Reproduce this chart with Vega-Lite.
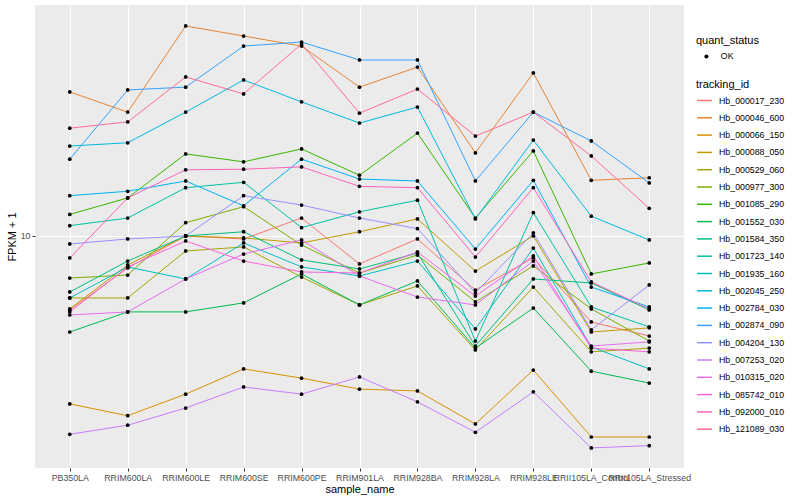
{
"$schema": "https://vega.github.io/schema/vega-lite/v6.json",
"width": 649, "height": 463,
"autosize": "none",
"padding": {"left": 35, "top": 5, "right": 116, "bottom": 32},
"background": "#FFFFFF",
"data": {"values": [
{"sample_name":"PB350LA","tracking_id":"Hb_000017_230","fpkm":5.06,"quant_status":"OK"},
{"sample_name":"RRIM600LA","tracking_id":"Hb_000017_230","fpkm":7.45,"quant_status":"OK"},
{"sample_name":"RRIM600LE","tracking_id":"Hb_000017_230","fpkm":10.0,"quant_status":"OK"},
{"sample_name":"RRIM600SE","tracking_id":"Hb_000017_230","fpkm":9.73,"quant_status":"OK"},
{"sample_name":"RRIM600PE","tracking_id":"Hb_000017_230","fpkm":11.8,"quant_status":"OK"},
{"sample_name":"RRIM901LA","tracking_id":"Hb_000017_230","fpkm":7.73,"quant_status":"OK"},
{"sample_name":"RRIM928BA","tracking_id":"Hb_000017_230","fpkm":9.73,"quant_status":"OK"},
{"sample_name":"RRIM928LA","tracking_id":"Hb_000017_230","fpkm":6.08,"quant_status":"OK"},
{"sample_name":"RRIM928LE","tracking_id":"Hb_000017_230","fpkm":8.17,"quant_status":"OK"},
{"sample_name":"RRII105LA_Control","tracking_id":"Hb_000017_230","fpkm":4.53,"quant_status":"OK"},
{"sample_name":"RRII105LA_Stressed","tracking_id":"Hb_000017_230","fpkm":3.98,"quant_status":"OK"},
{"sample_name":"PB350LA","tracking_id":"Hb_000046_600","fpkm":37.7,"quant_status":"OK"},
{"sample_name":"RRIM600LA","tracking_id":"Hb_000046_600","fpkm":31.3,"quant_status":"OK"},
{"sample_name":"RRIM600LE","tracking_id":"Hb_000046_600","fpkm":69.2,"quant_status":"OK"},
{"sample_name":"RRIM600SE","tracking_id":"Hb_000046_600","fpkm":63.1,"quant_status":"OK"},
{"sample_name":"RRIM600PE","tracking_id":"Hb_000046_600","fpkm":57.5,"quant_status":"OK"},
{"sample_name":"RRIM901LA","tracking_id":"Hb_000046_600","fpkm":39.4,"quant_status":"OK"},
{"sample_name":"RRIM928BA","tracking_id":"Hb_000046_600","fpkm":47.4,"quant_status":"OK"},
{"sample_name":"RRIM928LA","tracking_id":"Hb_000046_600","fpkm":21.5,"quant_status":"OK"},
{"sample_name":"RRIM928LE","tracking_id":"Hb_000046_600","fpkm":44.9,"quant_status":"OK"},
{"sample_name":"RRII105LA_Control","tracking_id":"Hb_000046_600","fpkm":16.7,"quant_status":"OK"},
{"sample_name":"RRII105LA_Stressed","tracking_id":"Hb_000046_600","fpkm":17.1,"quant_status":"OK"},
{"sample_name":"PB350LA","tracking_id":"Hb_000066_150","fpkm":2.13,"quant_status":"OK"},
{"sample_name":"RRIM600LA","tracking_id":"Hb_000066_150","fpkm":1.91,"quant_status":"OK"},
{"sample_name":"RRIM600LE","tracking_id":"Hb_000066_150","fpkm":2.33,"quant_status":"OK"},
{"sample_name":"RRIM600SE","tracking_id":"Hb_000066_150","fpkm":2.94,"quant_status":"OK"},
{"sample_name":"RRIM600PE","tracking_id":"Hb_000066_150","fpkm":2.70,"quant_status":"OK"},
{"sample_name":"RRIM901LA","tracking_id":"Hb_000066_150","fpkm":2.44,"quant_status":"OK"},
{"sample_name":"RRIM928BA","tracking_id":"Hb_000066_150","fpkm":2.40,"quant_status":"OK"},
{"sample_name":"RRIM928LA","tracking_id":"Hb_000066_150","fpkm":1.77,"quant_status":"OK"},
{"sample_name":"RRIM928LE","tracking_id":"Hb_000066_150","fpkm":2.91,"quant_status":"OK"},
{"sample_name":"RRII105LA_Control","tracking_id":"Hb_000066_150","fpkm":1.57,"quant_status":"OK"},
{"sample_name":"RRII105LA_Stressed","tracking_id":"Hb_000066_150","fpkm":1.57,"quant_status":"OK"},
{"sample_name":"PB350LA","tracking_id":"Hb_000088_050","fpkm":5.11,"quant_status":"OK"},
{"sample_name":"RRIM600LA","tracking_id":"Hb_000088_050","fpkm":7.66,"quant_status":"OK"},
{"sample_name":"RRIM600LE","tracking_id":"Hb_000088_050","fpkm":10.0,"quant_status":"OK"},
{"sample_name":"RRIM600SE","tracking_id":"Hb_000088_050","fpkm":9.82,"quant_status":"OK"},
{"sample_name":"RRIM600PE","tracking_id":"Hb_000088_050","fpkm":9.38,"quant_status":"OK"},
{"sample_name":"RRIM901LA","tracking_id":"Hb_000088_050","fpkm":10.4,"quant_status":"OK"},
{"sample_name":"RRIM928BA","tracking_id":"Hb_000088_050","fpkm":11.7,"quant_status":"OK"},
{"sample_name":"RRIM928LA","tracking_id":"Hb_000088_050","fpkm":7.24,"quant_status":"OK"},
{"sample_name":"RRIM928LE","tracking_id":"Hb_000088_050","fpkm":10.0,"quant_status":"OK"},
{"sample_name":"RRII105LA_Control","tracking_id":"Hb_000088_050","fpkm":4.13,"quant_status":"OK"},
{"sample_name":"RRII105LA_Stressed","tracking_id":"Hb_000088_050","fpkm":4.29,"quant_status":"OK"},
{"sample_name":"PB350LA","tracking_id":"Hb_000529_060","fpkm":5.65,"quant_status":"OK"},
{"sample_name":"RRIM600LA","tracking_id":"Hb_000529_060","fpkm":5.65,"quant_status":"OK"},
{"sample_name":"RRIM600LE","tracking_id":"Hb_000529_060","fpkm":8.71,"quant_status":"OK"},
{"sample_name":"RRIM600SE","tracking_id":"Hb_000529_060","fpkm":9.04,"quant_status":"OK"},
{"sample_name":"RRIM600PE","tracking_id":"Hb_000529_060","fpkm":6.85,"quant_status":"OK"},
{"sample_name":"RRIM901LA","tracking_id":"Hb_000529_060","fpkm":5.30,"quant_status":"OK"},
{"sample_name":"RRIM928BA","tracking_id":"Hb_000529_060","fpkm":6.31,"quant_status":"OK"},
{"sample_name":"RRIM928LA","tracking_id":"Hb_000529_060","fpkm":3.50,"quant_status":"OK"},
{"sample_name":"RRIM928LE","tracking_id":"Hb_000529_060","fpkm":6.25,"quant_status":"OK"},
{"sample_name":"RRII105LA_Control","tracking_id":"Hb_000529_060","fpkm":3.44,"quant_status":"OK"},
{"sample_name":"RRII105LA_Stressed","tracking_id":"Hb_000529_060","fpkm":3.56,"quant_status":"OK"},
{"sample_name":"PB350LA","tracking_id":"Hb_000977_300","fpkm":6.79,"quant_status":"OK"},
{"sample_name":"RRIM600LA","tracking_id":"Hb_000977_300","fpkm":6.98,"quant_status":"OK"},
{"sample_name":"RRIM600LE","tracking_id":"Hb_000977_300","fpkm":11.3,"quant_status":"OK"},
{"sample_name":"RRIM600SE","tracking_id":"Hb_000977_300","fpkm":13.1,"quant_status":"OK"},
{"sample_name":"RRIM600PE","tracking_id":"Hb_000977_300","fpkm":9.20,"quant_status":"OK"},
{"sample_name":"RRIM901LA","tracking_id":"Hb_000977_300","fpkm":7.11,"quant_status":"OK"},
{"sample_name":"RRIM928BA","tracking_id":"Hb_000977_300","fpkm":8.39,"quant_status":"OK"},
{"sample_name":"RRIM928LA","tracking_id":"Hb_000977_300","fpkm":5.45,"quant_status":"OK"},
{"sample_name":"RRIM928LE","tracking_id":"Hb_000977_300","fpkm":7.59,"quant_status":"OK"},
{"sample_name":"RRII105LA_Control","tracking_id":"Hb_000977_300","fpkm":5.11,"quant_status":"OK"},
{"sample_name":"RRII105LA_Stressed","tracking_id":"Hb_000977_300","fpkm":3.80,"quant_status":"OK"},
{"sample_name":"PB350LA","tracking_id":"Hb_001085_290","fpkm":12.2,"quant_status":"OK"},
{"sample_name":"RRIM600LA","tracking_id":"Hb_001085_290","fpkm":14.2,"quant_status":"OK"},
{"sample_name":"RRIM600LE","tracking_id":"Hb_001085_290","fpkm":21.3,"quant_status":"OK"},
{"sample_name":"RRIM600SE","tracking_id":"Hb_001085_290","fpkm":19.8,"quant_status":"OK"},
{"sample_name":"RRIM600PE","tracking_id":"Hb_001085_290","fpkm":22.3,"quant_status":"OK"},
{"sample_name":"RRIM901LA","tracking_id":"Hb_001085_290","fpkm":17.5,"quant_status":"OK"},
{"sample_name":"RRIM928BA","tracking_id":"Hb_001085_290","fpkm":25.8,"quant_status":"OK"},
{"sample_name":"RRIM928LA","tracking_id":"Hb_001085_290","fpkm":11.8,"quant_status":"OK"},
{"sample_name":"RRIM928LE","tracking_id":"Hb_001085_290","fpkm":21.9,"quant_status":"OK"},
{"sample_name":"RRII105LA_Control","tracking_id":"Hb_001085_290","fpkm":7.05,"quant_status":"OK"},
{"sample_name":"RRII105LA_Stressed","tracking_id":"Hb_001085_290","fpkm":7.80,"quant_status":"OK"},
{"sample_name":"PB350LA","tracking_id":"Hb_001552_030","fpkm":4.13,"quant_status":"OK"},
{"sample_name":"RRIM600LA","tracking_id":"Hb_001552_030","fpkm":4.97,"quant_status":"OK"},
{"sample_name":"RRIM600LE","tracking_id":"Hb_001552_030","fpkm":4.97,"quant_status":"OK"},
{"sample_name":"RRIM600SE","tracking_id":"Hb_001552_030","fpkm":5.40,"quant_status":"OK"},
{"sample_name":"RRIM600PE","tracking_id":"Hb_001552_030","fpkm":7.05,"quant_status":"OK"},
{"sample_name":"RRIM901LA","tracking_id":"Hb_001552_030","fpkm":5.30,"quant_status":"OK"},
{"sample_name":"RRIM928BA","tracking_id":"Hb_001552_030","fpkm":6.61,"quant_status":"OK"},
{"sample_name":"RRIM928LA","tracking_id":"Hb_001552_030","fpkm":3.56,"quant_status":"OK"},
{"sample_name":"RRIM928LE","tracking_id":"Hb_001552_030","fpkm":5.15,"quant_status":"OK"},
{"sample_name":"RRII105LA_Control","tracking_id":"Hb_001552_030","fpkm":2.88,"quant_status":"OK"},
{"sample_name":"RRII105LA_Stressed","tracking_id":"Hb_001552_030","fpkm":2.58,"quant_status":"OK"},
{"sample_name":"PB350LA","tracking_id":"Hb_001584_350","fpkm":5.97,"quant_status":"OK"},
{"sample_name":"RRIM600LA","tracking_id":"Hb_001584_350","fpkm":7.94,"quant_status":"OK"},
{"sample_name":"RRIM600LE","tracking_id":"Hb_001584_350","fpkm":10.0,"quant_status":"OK"},
{"sample_name":"RRIM600SE","tracking_id":"Hb_001584_350","fpkm":10.4,"quant_status":"OK"},
{"sample_name":"RRIM600PE","tracking_id":"Hb_001584_350","fpkm":8.02,"quant_status":"OK"},
{"sample_name":"RRIM901LA","tracking_id":"Hb_001584_350","fpkm":7.38,"quant_status":"OK"},
{"sample_name":"RRIM928BA","tracking_id":"Hb_001584_350","fpkm":8.55,"quant_status":"OK"},
{"sample_name":"RRIM928LA","tracking_id":"Hb_001584_350","fpkm":3.63,"quant_status":"OK"},
{"sample_name":"RRIM928LE","tracking_id":"Hb_001584_350","fpkm":6.73,"quant_status":"OK"},
{"sample_name":"RRII105LA_Control","tracking_id":"Hb_001584_350","fpkm":6.49,"quant_status":"OK"},
{"sample_name":"RRII105LA_Stressed","tracking_id":"Hb_001584_350","fpkm":5.06,"quant_status":"OK"},
{"sample_name":"PB350LA","tracking_id":"Hb_001723_140","fpkm":11.0,"quant_status":"OK"},
{"sample_name":"RRIM600LA","tracking_id":"Hb_001723_140","fpkm":11.8,"quant_status":"OK"},
{"sample_name":"RRIM600LE","tracking_id":"Hb_001723_140","fpkm":15.6,"quant_status":"OK"},
{"sample_name":"RRIM600SE","tracking_id":"Hb_001723_140","fpkm":16.4,"quant_status":"OK"},
{"sample_name":"RRIM600PE","tracking_id":"Hb_001723_140","fpkm":10.8,"quant_status":"OK"},
{"sample_name":"RRIM901LA","tracking_id":"Hb_001723_140","fpkm":12.5,"quant_status":"OK"},
{"sample_name":"RRIM928BA","tracking_id":"Hb_001723_140","fpkm":13.9,"quant_status":"OK"},
{"sample_name":"RRIM928LA","tracking_id":"Hb_001723_140","fpkm":3.80,"quant_status":"OK"},
{"sample_name":"RRIM928LE","tracking_id":"Hb_001723_140","fpkm":12.4,"quant_status":"OK"},
{"sample_name":"RRII105LA_Control","tracking_id":"Hb_001723_140","fpkm":5.20,"quant_status":"OK"},
{"sample_name":"RRII105LA_Stressed","tracking_id":"Hb_001723_140","fpkm":4.33,"quant_status":"OK"},
{"sample_name":"PB350LA","tracking_id":"Hb_001935_160","fpkm":5.65,"quant_status":"OK"},
{"sample_name":"RRIM600LA","tracking_id":"Hb_001935_160","fpkm":7.52,"quant_status":"OK"},
{"sample_name":"RRIM600LE","tracking_id":"Hb_001935_160","fpkm":6.73,"quant_status":"OK"},
{"sample_name":"RRIM600SE","tracking_id":"Hb_001935_160","fpkm":9.38,"quant_status":"OK"},
{"sample_name":"RRIM600PE","tracking_id":"Hb_001935_160","fpkm":7.52,"quant_status":"OK"},
{"sample_name":"RRIM901LA","tracking_id":"Hb_001935_160","fpkm":6.92,"quant_status":"OK"},
{"sample_name":"RRIM928BA","tracking_id":"Hb_001935_160","fpkm":7.94,"quant_status":"OK"},
{"sample_name":"RRIM928LA","tracking_id":"Hb_001935_160","fpkm":4.25,"quant_status":"OK"},
{"sample_name":"RRIM928LE","tracking_id":"Hb_001935_160","fpkm":8.95,"quant_status":"OK"},
{"sample_name":"RRII105LA_Control","tracking_id":"Hb_001935_160","fpkm":3.60,"quant_status":"OK"},
{"sample_name":"RRII105LA_Stressed","tracking_id":"Hb_001935_160","fpkm":2.94,"quant_status":"OK"},
{"sample_name":"PB350LA","tracking_id":"Hb_002045_250","fpkm":22.9,"quant_status":"OK"},
{"sample_name":"RRIM600LA","tracking_id":"Hb_002045_250","fpkm":23.6,"quant_status":"OK"},
{"sample_name":"RRIM600LE","tracking_id":"Hb_002045_250","fpkm":31.3,"quant_status":"OK"},
{"sample_name":"RRIM600SE","tracking_id":"Hb_002045_250","fpkm":42.1,"quant_status":"OK"},
{"sample_name":"RRIM600PE","tracking_id":"Hb_002045_250","fpkm":34.4,"quant_status":"OK"},
{"sample_name":"RRIM901LA","tracking_id":"Hb_002045_250","fpkm":28.3,"quant_status":"OK"},
{"sample_name":"RRIM928BA","tracking_id":"Hb_002045_250","fpkm":32.8,"quant_status":"OK"},
{"sample_name":"RRIM928LA","tracking_id":"Hb_002045_250","fpkm":11.7,"quant_status":"OK"},
{"sample_name":"RRIM928LE","tracking_id":"Hb_002045_250","fpkm":24.2,"quant_status":"OK"},
{"sample_name":"RRII105LA_Control","tracking_id":"Hb_002045_250","fpkm":12.0,"quant_status":"OK"},
{"sample_name":"RRII105LA_Stressed","tracking_id":"Hb_002045_250","fpkm":9.64,"quant_status":"OK"},
{"sample_name":"PB350LA","tracking_id":"Hb_002784_030","fpkm":14.5,"quant_status":"OK"},
{"sample_name":"RRIM600LA","tracking_id":"Hb_002784_030","fpkm":15.1,"quant_status":"OK"},
{"sample_name":"RRIM600LE","tracking_id":"Hb_002784_030","fpkm":16.6,"quant_status":"OK"},
{"sample_name":"RRIM600SE","tracking_id":"Hb_002784_030","fpkm":13.2,"quant_status":"OK"},
{"sample_name":"RRIM600PE","tracking_id":"Hb_002784_030","fpkm":20.3,"quant_status":"OK"},
{"sample_name":"RRIM901LA","tracking_id":"Hb_002784_030","fpkm":16.9,"quant_status":"OK"},
{"sample_name":"RRIM928BA","tracking_id":"Hb_002784_030","fpkm":16.6,"quant_status":"OK"},
{"sample_name":"RRIM928LA","tracking_id":"Hb_002784_030","fpkm":8.87,"quant_status":"OK"},
{"sample_name":"RRIM928LE","tracking_id":"Hb_002784_030","fpkm":16.7,"quant_status":"OK"},
{"sample_name":"RRII105LA_Control","tracking_id":"Hb_002784_030","fpkm":6.25,"quant_status":"OK"},
{"sample_name":"RRII105LA_Stressed","tracking_id":"Hb_002784_030","fpkm":5.20,"quant_status":"OK"},
{"sample_name":"PB350LA","tracking_id":"Hb_002874_090","fpkm":20.3,"quant_status":"OK"},
{"sample_name":"RRIM600LA","tracking_id":"Hb_002874_090","fpkm":38.4,"quant_status":"OK"},
{"sample_name":"RRIM600LE","tracking_id":"Hb_002874_090","fpkm":39.4,"quant_status":"OK"},
{"sample_name":"RRIM600SE","tracking_id":"Hb_002874_090","fpkm":57.5,"quant_status":"OK"},
{"sample_name":"RRIM600PE","tracking_id":"Hb_002874_090","fpkm":59.7,"quant_status":"OK"},
{"sample_name":"RRIM901LA","tracking_id":"Hb_002874_090","fpkm":50.6,"quant_status":"OK"},
{"sample_name":"RRIM928BA","tracking_id":"Hb_002874_090","fpkm":50.6,"quant_status":"OK"},
{"sample_name":"RRIM928LA","tracking_id":"Hb_002874_090","fpkm":16.6,"quant_status":"OK"},
{"sample_name":"RRIM928LE","tracking_id":"Hb_002874_090","fpkm":31.3,"quant_status":"OK"},
{"sample_name":"RRII105LA_Control","tracking_id":"Hb_002874_090","fpkm":24.0,"quant_status":"OK"},
{"sample_name":"RRII105LA_Stressed","tracking_id":"Hb_002874_090","fpkm":16.3,"quant_status":"OK"},
{"sample_name":"PB350LA","tracking_id":"Hb_004204_130","fpkm":9.29,"quant_status":"OK"},
{"sample_name":"RRIM600LA","tracking_id":"Hb_004204_130","fpkm":9.73,"quant_status":"OK"},
{"sample_name":"RRIM600LE","tracking_id":"Hb_004204_130","fpkm":10.0,"quant_status":"OK"},
{"sample_name":"RRIM600SE","tracking_id":"Hb_004204_130","fpkm":14.5,"quant_status":"OK"},
{"sample_name":"RRIM600PE","tracking_id":"Hb_004204_130","fpkm":13.3,"quant_status":"OK"},
{"sample_name":"RRIM901LA","tracking_id":"Hb_004204_130","fpkm":11.8,"quant_status":"OK"},
{"sample_name":"RRIM928BA","tracking_id":"Hb_004204_130","fpkm":10.7,"quant_status":"OK"},
{"sample_name":"RRIM928LA","tracking_id":"Hb_004204_130","fpkm":5.92,"quant_status":"OK"},
{"sample_name":"RRIM928LE","tracking_id":"Hb_004204_130","fpkm":10.3,"quant_status":"OK"},
{"sample_name":"RRII105LA_Control","tracking_id":"Hb_004204_130","fpkm":4.21,"quant_status":"OK"},
{"sample_name":"RRII105LA_Stressed","tracking_id":"Hb_004204_130","fpkm":6.37,"quant_status":"OK"},
{"sample_name":"PB350LA","tracking_id":"Hb_007253_020","fpkm":1.61,"quant_status":"OK"},
{"sample_name":"RRIM600LA","tracking_id":"Hb_007253_020","fpkm":1.75,"quant_status":"OK"},
{"sample_name":"RRIM600LE","tracking_id":"Hb_007253_020","fpkm":2.05,"quant_status":"OK"},
{"sample_name":"RRIM600SE","tracking_id":"Hb_007253_020","fpkm":2.49,"quant_status":"OK"},
{"sample_name":"RRIM600PE","tracking_id":"Hb_007253_020","fpkm":2.33,"quant_status":"OK"},
{"sample_name":"RRIM901LA","tracking_id":"Hb_007253_020","fpkm":2.73,"quant_status":"OK"},
{"sample_name":"RRIM928BA","tracking_id":"Hb_007253_020","fpkm":2.17,"quant_status":"OK"},
{"sample_name":"RRIM928LA","tracking_id":"Hb_007253_020","fpkm":1.64,"quant_status":"OK"},
{"sample_name":"RRIM928LE","tracking_id":"Hb_007253_020","fpkm":2.38,"quant_status":"OK"},
{"sample_name":"RRII105LA_Control","tracking_id":"Hb_007253_020","fpkm":1.42,"quant_status":"OK"},
{"sample_name":"RRII105LA_Stressed","tracking_id":"Hb_007253_020","fpkm":1.45,"quant_status":"OK"},
{"sample_name":"PB350LA","tracking_id":"Hb_010315_020","fpkm":4.83,"quant_status":"OK"},
{"sample_name":"RRIM600LA","tracking_id":"Hb_010315_020","fpkm":4.97,"quant_status":"OK"},
{"sample_name":"RRIM600LE","tracking_id":"Hb_010315_020","fpkm":6.73,"quant_status":"OK"},
{"sample_name":"RRIM600SE","tracking_id":"Hb_010315_020","fpkm":8.47,"quant_status":"OK"},
{"sample_name":"RRIM600PE","tracking_id":"Hb_010315_020","fpkm":9.64,"quant_status":"OK"},
{"sample_name":"RRIM901LA","tracking_id":"Hb_010315_020","fpkm":6.92,"quant_status":"OK"},
{"sample_name":"RRIM928BA","tracking_id":"Hb_010315_020","fpkm":5.70,"quant_status":"OK"},
{"sample_name":"RRIM928LA","tracking_id":"Hb_010315_020","fpkm":5.30,"quant_status":"OK"},
{"sample_name":"RRIM928LE","tracking_id":"Hb_010315_020","fpkm":7.94,"quant_status":"OK"},
{"sample_name":"RRII105LA_Control","tracking_id":"Hb_010315_020","fpkm":3.63,"quant_status":"OK"},
{"sample_name":"RRII105LA_Stressed","tracking_id":"Hb_010315_020","fpkm":3.77,"quant_status":"OK"},
{"sample_name":"PB350LA","tracking_id":"Hb_085742_010","fpkm":4.97,"quant_status":"OK"},
{"sample_name":"RRIM600LA","tracking_id":"Hb_085742_010","fpkm":7.52,"quant_status":"OK"},
{"sample_name":"RRIM600LE","tracking_id":"Hb_085742_010","fpkm":9.55,"quant_status":"OK"},
{"sample_name":"RRIM600SE","tracking_id":"Hb_085742_010","fpkm":7.94,"quant_status":"OK"},
{"sample_name":"RRIM600PE","tracking_id":"Hb_085742_010","fpkm":7.18,"quant_status":"OK"},
{"sample_name":"RRIM901LA","tracking_id":"Hb_085742_010","fpkm":7.11,"quant_status":"OK"},
{"sample_name":"RRIM928BA","tracking_id":"Hb_085742_010","fpkm":8.63,"quant_status":"OK"},
{"sample_name":"RRIM928LA","tracking_id":"Hb_085742_010","fpkm":5.75,"quant_status":"OK"},
{"sample_name":"RRIM928LE","tracking_id":"Hb_085742_010","fpkm":8.32,"quant_status":"OK"},
{"sample_name":"RRII105LA_Control","tracking_id":"Hb_085742_010","fpkm":3.56,"quant_status":"OK"},
{"sample_name":"RRII105LA_Stressed","tracking_id":"Hb_085742_010","fpkm":3.44,"quant_status":"OK"},
{"sample_name":"PB350LA","tracking_id":"Hb_092000_010","fpkm":8.17,"quant_status":"OK"},
{"sample_name":"RRIM600LA","tracking_id":"Hb_092000_010","fpkm":14.2,"quant_status":"OK"},
{"sample_name":"RRIM600LE","tracking_id":"Hb_092000_010","fpkm":18.4,"quant_status":"OK"},
{"sample_name":"RRIM600SE","tracking_id":"Hb_092000_010","fpkm":18.5,"quant_status":"OK"},
{"sample_name":"RRIM600PE","tracking_id":"Hb_092000_010","fpkm":18.9,"quant_status":"OK"},
{"sample_name":"RRIM901LA","tracking_id":"Hb_092000_010","fpkm":15.8,"quant_status":"OK"},
{"sample_name":"RRIM928BA","tracking_id":"Hb_092000_010","fpkm":15.6,"quant_status":"OK"},
{"sample_name":"RRIM928LA","tracking_id":"Hb_092000_010","fpkm":8.24,"quant_status":"OK"},
{"sample_name":"RRIM928LE","tracking_id":"Hb_092000_010","fpkm":15.6,"quant_status":"OK"},
{"sample_name":"RRII105LA_Control","tracking_id":"Hb_092000_010","fpkm":6.55,"quant_status":"OK"},
{"sample_name":"RRII105LA_Stressed","tracking_id":"Hb_092000_010","fpkm":5.11,"quant_status":"OK"},
{"sample_name":"PB350LA","tracking_id":"Hb_121089_030","fpkm":27.0,"quant_status":"OK"},
{"sample_name":"RRIM600LA","tracking_id":"Hb_121089_030","fpkm":28.6,"quant_status":"OK"},
{"sample_name":"RRIM600LE","tracking_id":"Hb_121089_030","fpkm":43.3,"quant_status":"OK"},
{"sample_name":"RRIM600SE","tracking_id":"Hb_121089_030","fpkm":37.0,"quant_status":"OK"},
{"sample_name":"RRIM600PE","tracking_id":"Hb_121089_030","fpkm":58.6,"quant_status":"OK"},
{"sample_name":"RRIM901LA","tracking_id":"Hb_121089_030","fpkm":31.0,"quant_status":"OK"},
{"sample_name":"RRIM928BA","tracking_id":"Hb_121089_030","fpkm":38.7,"quant_status":"OK"},
{"sample_name":"RRIM928LA","tracking_id":"Hb_121089_030","fpkm":25.1,"quant_status":"OK"},
{"sample_name":"RRIM928LE","tracking_id":"Hb_121089_030","fpkm":31.3,"quant_status":"OK"},
{"sample_name":"RRII105LA_Control","tracking_id":"Hb_121089_030","fpkm":20.9,"quant_status":"OK"},
{"sample_name":"RRII105LA_Stressed","tracking_id":"Hb_121089_030","fpkm":12.9,"quant_status":"OK"}
]},
"encoding": {
  "x": {"field": "sample_name", "type": "nominal",
    "scale": {"type": "point", "padding": 0.6, "domain": ["PB350LA","RRIM600LA","RRIM600LE","RRIM600SE","RRIM600PE","RRIM901LA","RRIM928BA","RRIM928LA","RRIM928LE","RRII105LA_Control","RRII105LA_Stressed"]},
    "axis": {"title": "sample_name", "labelAngle": 0, "labelPadding": 2, "titlePadding": 2, "grid": true}},
  "y": {"field": "fpkm", "type": "quantitative",
    "scale": {"type": "log", "domain": [1.18, 83.96], "nice": false, "zero": false},
    "axis": {"title": "FPKM + 1", "values": [10], "format": "d", "labelPadding": 2, "titlePadding": 3, "grid": true}}
},
"layer": [
  {"mark": {"type": "line", "strokeWidth": 1},
   "encoding": {
     "color": {"field": "tracking_id", "type": "nominal",
       "scale": {"domain": ["Hb_000017_230","Hb_000046_600","Hb_000066_150","Hb_000088_050","Hb_000529_060","Hb_000977_300","Hb_001085_290","Hb_001552_030","Hb_001584_350","Hb_001723_140","Hb_001935_160","Hb_002045_250","Hb_002784_030","Hb_002874_090","Hb_004204_130","Hb_007253_020","Hb_010315_020","Hb_085742_010","Hb_092000_010","Hb_121089_030"],
         "range": ["#F8766D","#EA8331","#D89000","#C09B00","#A3A500","#7CAE00","#39B600","#00BB4E","#00BF7D","#00C1A3","#00BFC4","#00BAE0","#00B0F6","#35A2FF","#9590FF","#C77CFF","#E76BF3","#FA62DB","#FF62BC","#FF6C91"]},
       "legend": {"title": "tracking_id", "orient": "none", "legendX": 661, "legendY": 74, "symbolType": "stroke", "symbolStrokeWidth": 1.5, "symbolSize": 220, "rowPadding": 3.3, "titlePadding": 2, "labelOffset": 6}}
   }},
  {"mark": {"type": "point", "filled": true, "size": 14, "color": "#000000", "opacity": 1},
   "encoding": {
     "shape": {"field": "quant_status", "type": "nominal", "scale": {"range": ["circle"]},
       "legend": {"title": "quant_status", "orient": "none", "legendX": 661, "legendY": 30, "symbolSize": 16, "symbolOffset": 6, "symbolFillColor": "#000000", "symbolStrokeColor": "#000000", "titlePadding": 6, "labelOffset": 10}}
   }}
],
"config": {
  "font": "Liberation Sans",
  "view": {"fill": "#EBEBEB", "stroke": null},
  "axis": {"gridColor": "#FFFFFF", "gridWidth": 1.1, "domain": false, "tickColor": "#333333", "tickSize": 3, "labelColor": "#4D4D4D", "labelFontSize": 8.8, "titleFontSize": 11, "titleFontWeight": "normal", "titleColor": "#000000"},
  "legend": {"titleFontSize": 11, "titleFontWeight": "normal", "titleColor": "#000000", "labelFontSize": 8.8, "labelColor": "#000000"}
}
}
